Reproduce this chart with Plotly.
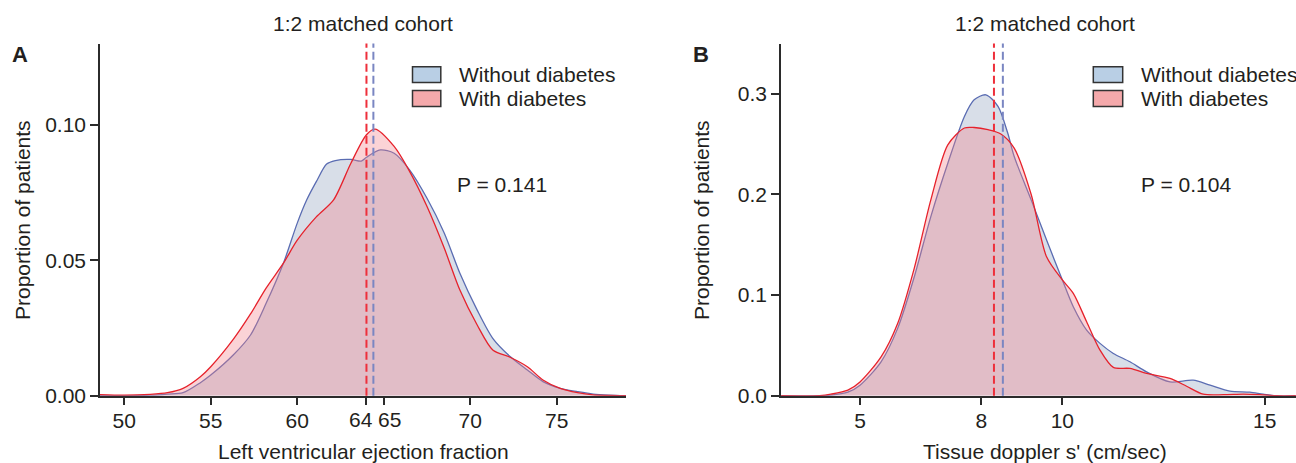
import plotly.graph_objects as go

# ---------------- data ----------------
# Panel A: Left ventricular ejection fraction (density)
lvef_x_without = [48.6, 50.0, 51.5, 52.5, 53.4, 54.4, 55.0, 56.3, 57.3, 58.2, 59.2, 60.0, 60.55, 61.1, 61.7,
                  62.2, 63.1, 63.7, 64.0, 64.8, 65.6, 66.5, 67.5, 68.5, 69.4, 70.4, 71.3, 72.3, 73.3, 74.2,
                  75.2, 76.2, 77.1, 78.0, 79.0]
lvef_y_without = [0.0, 0.0, 0.0002, 0.0006, 0.0011, 0.0048, 0.0076, 0.0150, 0.0224, 0.0341, 0.0489, 0.0637, 0.0723,
                  0.0790, 0.0855, 0.0868, 0.0872, 0.0866, 0.0880, 0.0907, 0.0895, 0.0833, 0.0729, 0.0600, 0.0452,
                  0.0316, 0.0212, 0.0145, 0.0095, 0.0052, 0.0027, 0.0015, 0.0006, 0.0002, 0.0]
lvef_x_with = [48.6, 50.0, 51.5, 52.5, 53.4, 54.4, 55.0, 56.3, 57.3, 58.2, 59.2, 60.0, 61.1, 62.1, 63.1, 64.0,
               64.5, 65.6, 66.5, 67.5, 68.5, 69.4, 70.4, 71.3, 72.3, 73.3, 74.2, 75.2, 76.2, 77.1, 78.0, 79.0]
lvef_y_with = [0.0004, 0.0002, 0.0005, 0.0011, 0.0027, 0.0070, 0.0107, 0.0208, 0.0302, 0.0397, 0.0489, 0.0574,
               0.0660, 0.0723, 0.0858, 0.0963, 0.0984, 0.0920, 0.0827, 0.0698, 0.0544, 0.0390, 0.0261, 0.0169,
               0.0142, 0.0107, 0.0058, 0.0027, 0.0011, 0.0003, 0.0001, 0.0]
lvef_means = {"without": 64.4, "with": 64.0}
lvef_xticks = [50, 55, 60, 64, 65, 70, 75]
lvef_xtick_labels = ["50", "55", "60", "64", "65", "70", "75"]
lvef_close_ticks = [64, 65]          # labels drawn nudged apart, as in the reference
lvef_yticks = [0.0, 0.05, 0.10]
lvef_ytick_labels = ["0.00", "0.05", "0.10"]
lvef_p = "P = 0.141"

# Panel B: Tissue doppler s' (density)
tds_x_without = [3.05, 4.0, 4.28, 4.70, 5.0, 5.52, 5.93, 6.34, 6.75, 7.17, 7.58, 7.82, 8.11, 8.41, 8.65, 8.81,
                 9.23, 9.61, 10.0, 10.27, 10.6, 10.93, 11.26, 11.67, 12.08, 12.66, 13.23, 13.65, 14.14, 14.63,
                 14.96, 15.29, 15.77]
tds_y_without = [0.0, 0.0, 0.0005, 0.0035, 0.0105, 0.0337, 0.0669, 0.1180, 0.1780, 0.2310, 0.2775, 0.2940, 0.2990,
                 0.2875, 0.2610, 0.2377, 0.1946, 0.1548, 0.1150, 0.0884, 0.0652, 0.0520, 0.0420, 0.0337, 0.0237,
                 0.0137, 0.0154, 0.0105, 0.0045, 0.0035, 0.0015, 0.0, 0.0]
tds_x_with = [3.05, 4.0, 4.28, 4.70, 5.0, 5.52, 5.93, 6.34, 6.75, 7.17, 7.58, 7.82, 8.16, 8.48, 8.81, 9.23, 9.61,
              10.0, 10.27, 10.6, 10.93, 11.26, 11.67, 12.08, 12.66, 13.07, 13.48, 13.98, 14.47, 14.88, 15.3, 15.77]
tds_y_with = [0.0, 0.0001, 0.0015, 0.0055, 0.0137, 0.0386, 0.0718, 0.1266, 0.1946, 0.2493, 0.2660, 0.2665, 0.2643,
              0.2600, 0.2460, 0.2000, 0.1380, 0.1150, 0.1017, 0.0735, 0.0453, 0.0281, 0.0271, 0.0221, 0.0171,
              0.0094, 0.0015, 0.0010, 0.0015, 0.0010, 0.0, 0.0]
tds_means = {"without": 8.53, "with": 8.31}
tds_xticks = [5, 8, 10, 15]
tds_xtick_labels = ["5", "8", "10", "15"]
tds_yticks = [0.0, 0.1, 0.2, 0.3]
tds_ytick_labels = ["0.0", "0.1", "0.2", "0.3"]
tds_p = "P = 0.104"

series_names = ["Without diabetes", "With diabetes"]
panel_labels = ["A", "B"]
panel_title = "1:2 matched cohort"
x_titles = ["Left ventricular ejection fraction", "Tissue doppler s' (cm/sec)"]
y_title = "Proportion of patients"

# ---------------- style ----------------
W, H = 1296, 463
FONT = "Liberation Sans, Arial, Helvetica, sans-serif"
TXT = "#231f20"
AX = "#2b2b2b"
BLUE_LINE = "#5a6cb2"
BLUE_FILL = "rgba(125,145,178,0.30)"
RED_LINE = "#e6222c"
RED_FILL = "rgba(244,128,138,0.35)"
BLUE_SW = "#b9cfe5"
RED_SW = "#f5a9ab"


def px(x):
    return x / W


def py(y):
    return 1 - y / H


fig = go.Figure()

panels = [
    dict(xa="x", ya="y", xw=lvef_x_without, yw=lvef_y_without, xd=lvef_x_with, yd=lvef_y_with),
    dict(xa="x2", ya="y2", xw=tds_x_without, yw=tds_y_without, xd=tds_x_with, yd=tds_y_with),
]
for p in panels:
    fig.add_trace(go.Scatter(x=p["xw"], y=p["yw"], xaxis=p["xa"], yaxis=p["ya"], mode="lines",
                             line=dict(color=BLUE_LINE, width=1.3, shape="spline", smoothing=0.8),
                             fill="tozeroy", fillcolor=BLUE_FILL, name=series_names[0], showlegend=False,
                             hoverinfo="skip"))
    fig.add_trace(go.Scatter(x=p["xd"], y=p["yd"], xaxis=p["xa"], yaxis=p["ya"], mode="lines",
                             line=dict(color=RED_LINE, width=1.3, shape="spline", smoothing=0.8),
                             fill="tozeroy", fillcolor=RED_FILL, name=series_names[1], showlegend=False,
                             hoverinfo="skip"))

ydom = [py(395.7), py(43.5)]
common_axis = dict(showline=True, linecolor=AX, linewidth=1.5, ticks="outside", ticklen=8, tickwidth=1.5,
                   tickcolor=AX, showgrid=False, zeroline=False, automargin=False, tickangle=0,
                   tickfont=dict(family=FONT, size=21, color=TXT))

lvef_ticktext = ["" if v in lvef_close_ticks else t for v, t in zip(lvef_xticks, lvef_xtick_labels)]

fig.update_layout(
    width=W, height=H, margin=dict(l=0, r=0, t=0, b=0, autoexpand=False),
    paper_bgcolor="white", plot_bgcolor="white", showlegend=False,
    xaxis=dict(domain=[px(100), px(626)], range=[48.6, 79.0], tickvals=lvef_xticks,
               ticktext=lvef_ticktext, anchor="y", ticklabelstandoff=-3, **common_axis),
    yaxis=dict(domain=ydom, range=[0, 0.13], tickvals=lvef_yticks, ticktext=lvef_ytick_labels,
               anchor="x", **common_axis),
    xaxis2=dict(domain=[px(781), 1.0], range=[3.048, 15.773], tickvals=tds_xticks,
                ticktext=tds_xtick_labels, anchor="y2", ticklabelstandoff=-3, **common_axis),
    yaxis2=dict(domain=ydom, range=[0, 0.35], tickvals=tds_yticks, ticktext=tds_ytick_labels,
                anchor="x2", **common_axis),
)

# mean dashed lines
for xa, ya, means in [("x", "y", lvef_means), ("x2", "y2", tds_means)]:
    for key, col in [("with", "#ee2f3b"), ("without", "#7a86c2")]:
        fig.add_shape(type="line", xref=xa, yref=ya + " domain", x0=means[key], x1=means[key], y0=0, y1=1,
                      line=dict(color=col, width=2, dash="8px,4px"), layer="above")

ann = []
# nudged tick labels for the two close ticks (64, 65)
for v, shift in zip(lvef_close_ticks, [-5.5, 5.5]):
    ann.append(dict(text=lvef_xtick_labels[lvef_xticks.index(v)], x=v, xref="x", y=py(419), yref="paper",
                    xshift=shift, xanchor="center", yanchor="middle", showarrow=False, borderpad=0,
                    font=dict(family=FONT, size=21, color=TXT)))

centers = [363, 1044.6]
ylab_x = [22, 701]
lab_x = [20, 701]
leg_box_x = [(412.5, 440.8), (1093.3, 1122.7)]
leg_text_x = [457, 1139]
p_text_x = [455, 1139]
p_texts = [lvef_p, tds_p]
for i in range(2):
    ann.append(dict(text=panel_title, x=px(centers[i]), y=py(24), xref="paper", yref="paper",
                    xanchor="center", yanchor="middle", showarrow=False,
                    font=dict(family=FONT, size=21, color=TXT)))
    ann.append(dict(text="<b>%s</b>" % panel_labels[i], x=px(lab_x[i]), y=py(54), xref="paper", yref="paper",
                    xanchor="center", yanchor="middle", showarrow=False,
                    font=dict(family=FONT, size=22, color=TXT)))
    ann.append(dict(text=y_title, x=px(ylab_x[i]), y=py(220), xref="paper", yref="paper", textangle=-90,
                    xanchor="center", yanchor="middle", showarrow=False,
                    font=dict(family=FONT, size=21, color=TXT)))
    ann.append(dict(text=x_titles[i], x=px(centers[i]), y=py(451), xref="paper", yref="paper",
                    xanchor="center", yanchor="middle", showarrow=False,
                    font=dict(family=FONT, size=21, color=TXT)))
    ann.append(dict(text=p_texts[i], x=px(p_text_x[i]), y=py(184), xref="paper", yref="paper",
                    xanchor="left", yanchor="middle", showarrow=False,
                    font=dict(family=FONT, size=21, color=TXT)))
    for j, (name, sw, (y0, y1)) in enumerate([(series_names[0], BLUE_SW, (66.7, 82.5)),
                                              (series_names[1], RED_SW, (90.5, 106.5))]):
        fig.add_shape(type="rect", xref="paper", yref="paper", x0=px(leg_box_x[i][0]), x1=px(leg_box_x[i][1]),
                      y0=py(y1), y1=py(y0), fillcolor=sw, line=dict(color="#333333", width=1.5))
        ann.append(dict(text=name, x=px(leg_text_x[i]), y=py((y0 + y1) / 2), xref="paper", yref="paper",
                        xanchor="left", yanchor="middle", showarrow=False,
                        font=dict(family=FONT, size=21, color=TXT)))

fig.update_layout(annotations=ann)
fig.write_html("out.html")
